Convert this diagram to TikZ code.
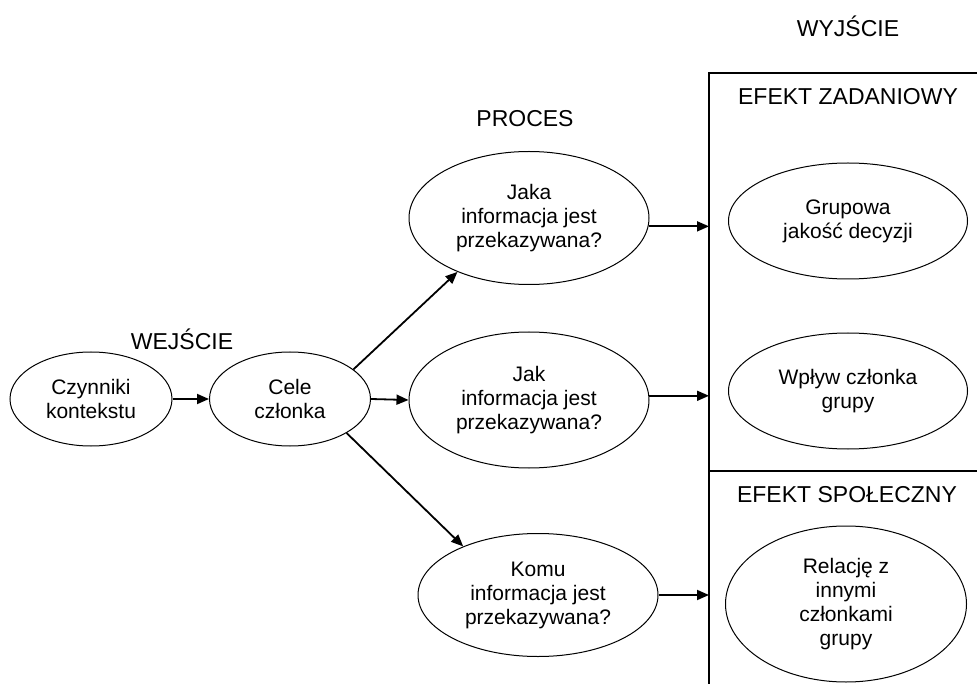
\documentclass[tikz,border=0pt]{standalone}
\usepackage{fontspec}
\setmainfont{Liberation Sans}
\usepackage{tikz}
\usetikzlibrary{shapes.geometric,arrows.meta}
\tikzset{
  oval/.style={draw, ellipse, line width=1pt, inner sep=0pt, align=center,
    font=\fontsize{21}{24}\selectfont},
  heading/.style={font=\fontsize{23}{27}\selectfont, inner sep=0pt},
  arr/.style={line width=1.8pt, -{Triangle[length=12pt,width=10pt]}},
  frame/.style={line width=1.5pt}
}
\newcommand*{\HeadingRow}[1]{% #1 = list of name/x/y/text
\foreach \name/\x/\y/\text in {#1} {
\node [heading] (\name) at (\x,\y) {\text};
}%
}

\begin{document}
\begin{tikzpicture}[x=1pt,y=-1pt]

            \useasboundingbox (0,0) rectangle (977,684);

            \HeadingRow{wyjscie/848/26/{WYJŚCIE}, proces/525/119/{PROCES},
                        wejscie/182/339/{WEJŚCIE}, zadaniowy/848/97/{EFEKT ZADANIOWY},
                        spoleczny/847/495/{EFEKT SPOŁECZNY}}

            % output frame
            \coordinate (boxtl) at (709,73);
            \coordinate (boxbl) at (709,684);
            \coordinate (divl) at (709,471);
            \draw [frame] (boxbl) -- (boxtl) -- (977,73);
            \draw [frame] (divl) -- (977,471);

            \node [oval, minimum width=162pt, minimum height=94pt] (czynniki) at (91,399) {Czynniki\\kontekstu};
            \node [oval, minimum width=161pt, minimum height=94pt] (cele) at (290,399) {Cele\\członka};
            \node [oval, minimum width=240pt, minimum height=133pt] (jaka) at (529,218) {Jaka\\informacja jest\\przekazywana?};
            \node [oval, minimum width=240pt, minimum height=136pt] (jak) at (529,400) {Jak\\informacja jest\\przekazywana?};
            \node [oval, minimum width=240pt, minimum height=123pt] (komu) at (538,595) {Komu\\informacja jest\\przekazywana?};
            \node [oval, minimum width=239pt, minimum height=116pt] (grupowa) at (848,221) {Grupowa\\jakość decyzji};
            \node [oval, minimum width=239pt, minimum height=116pt] (wplyw) at (848,391) {Wpływ członka\\grupy};
            \node [oval, minimum width=241pt, minimum height=156pt] (relacje) at (846,604) {Relację z\\innymi\\członkami\\grupy};

            \draw [arr] (czynniki.east) -- (cele.west);
            \draw [arr] (cele.25) -- (jaka.217);
            \draw [arr] (cele.east) -- (jak.west);
            \draw [arr] (cele.329) -- (komu.147);
            \draw [arr] (jaka.-4) -- (jaka.-4 -| boxtl);
            \draw [arr] (jak.2) -- (jak.2 -| boxtl);
            \draw [arr] (komu.east) -- (komu.east -| boxtl);

        \end{tikzpicture}
\end{document}
